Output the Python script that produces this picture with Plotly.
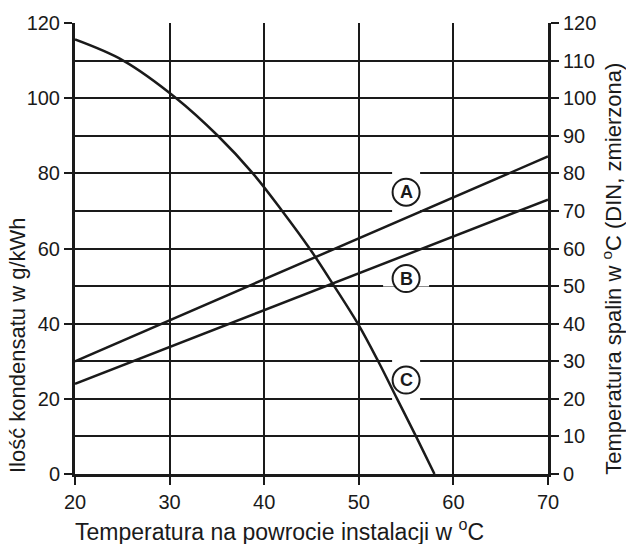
import plotly.graph_objects as go

# ---- data ----
x_line = [20, 70]
temp_A = [30, 84.5]          # Temperatura spalin, curve A
temp_B = [24, 73]            # Temperatura spalin, curve B
x_cond = [20, 25.1, 30.7, 35.1, 38.8, 41.9, 44.8, 47.4, 49.9, 52.05, 54.05, 56.05, 58]
cond_C = [115.6, 110, 100, 90, 80, 70, 60, 50, 40, 30, 20, 10, 0]

label_names = ["A", "B", "C"]
label_x = [55, 55, 55]
label_y = [75, 52, 25]
# white gap (pixel half-sizes) that interrupts the grid around each label
gap_w = [14, 23, 14]
gap_h = [23, 8, 23]

x_ticks = [20, 30, 40, 50, 60, 70]
y_left_ticks = [0, 20, 40, 60, 80, 100, 120]
y_right_ticks = list(range(0, 121, 10))

INK = "#1a1a1a"
FONT = "Liberation Sans, Arial, Helvetica, sans-serif"

fig = go.Figure()
fig.add_trace(go.Scatter(x=x_line, y=temp_A, mode="lines", yaxis="y2",
                         line=dict(color=INK, width=2.5), hoverinfo="skip", showlegend=False))
fig.add_trace(go.Scatter(x=x_line, y=temp_B, mode="lines", yaxis="y2",
                         line=dict(color=INK, width=2.5), hoverinfo="skip", showlegend=False))
fig.add_trace(go.Scatter(x=x_cond, y=cond_C, mode="lines",
                         line=dict(color=INK, width=2.5, shape="spline", smoothing=1.0),
                         hoverinfo="skip", showlegend=False))

shapes = []
annotations = []
for name, lx, ly, gw, gh in zip(label_names, label_x, label_y, gap_w, gap_h):
    shapes.append(dict(type="rect", xref="x", yref="y", layer="between",
                       xsizemode="pixel", ysizemode="pixel", xanchor=lx, yanchor=ly,
                       x0=-gw, x1=gw, y0=-gh, y1=gh,
                       fillcolor="white", line=dict(width=0)))
    shapes.append(dict(type="circle", xref="x", yref="y", layer="above",
                       xsizemode="pixel", ysizemode="pixel", xanchor=lx, yanchor=ly,
                       x0=-13.5, x1=13.5, y0=-13.5, y1=13.5,
                       fillcolor="white", line=dict(color=INK, width=2)))
    annotations.append(dict(x=lx, y=ly, xref="x", yref="y", text="<b>%s</b>" % name,
                            showarrow=False, font=dict(size=18, color=INK, family=FONT),
                            xanchor="center", yanchor="middle"))

annotations.append(dict(text="Temperatura na powrocie instalacji w <sup>o</sup>C",
                        xref="paper", yref="paper", x=-0.004, y=-0.125,
                        xanchor="left", yanchor="middle", showarrow=False,
                        font=dict(size=23, color=INK, family=FONT)))
annotations.append(dict(text="Ilość kondensatu w g/kWh", textangle=-90,
                        xref="paper", yref="paper", x=-0.1226, y=0.286,
                        xanchor="center", yanchor="middle", showarrow=False,
                        font=dict(size=22, color=INK, family=FONT)))
annotations.append(dict(text="Temperatura spalin w <sup>o</sup>C (DIN, zmierzona)", textangle=-90,
                        xref="paper", yref="paper", x=1.135, y=0.4547,
                        xanchor="center", yanchor="middle", showarrow=False,
                        font=dict(size=22, color=INK, family=FONT)))

fig.update_layout(
    width=626, height=544,
    margin=dict(l=75, r=78, t=21, b=70),
    paper_bgcolor="white", plot_bgcolor="white",
    font=dict(family=FONT, color=INK, size=20),
    xaxis=dict(range=[20, 70], tickvals=x_ticks, ticks="outside", ticklen=8, tickwidth=2,
               tickcolor=INK, showline=True, linewidth=3, linecolor=INK,
               showgrid=True, gridcolor=INK, gridwidth=2, zeroline=False,
               tickfont=dict(size=20, color=INK)),
    yaxis=dict(range=[0, 120], tickvals=y_left_ticks, ticks="outside", ticklen=8, tickwidth=2,
               tickcolor=INK, showline=True, linewidth=3, linecolor=INK,
               showgrid=True, gridcolor=INK, gridwidth=2, zeroline=False,
               tickfont=dict(size=20, color=INK)),
    yaxis2=dict(range=[0, 120], tickvals=y_right_ticks, overlaying="y", side="right",
                ticks="outside", ticklen=8, tickwidth=2, tickcolor=INK,
                showline=True, linewidth=3, linecolor=INK,
                showgrid=True, gridcolor=INK, gridwidth=2, zeroline=False,
                tickfont=dict(size=20, color=INK)),
    shapes=shapes,
    annotations=annotations,
)

fig.write_html("out.html", config={"displayModeBar": False},
               post_script="document.body.style.margin='0px';document.body.style.padding='0px';")
